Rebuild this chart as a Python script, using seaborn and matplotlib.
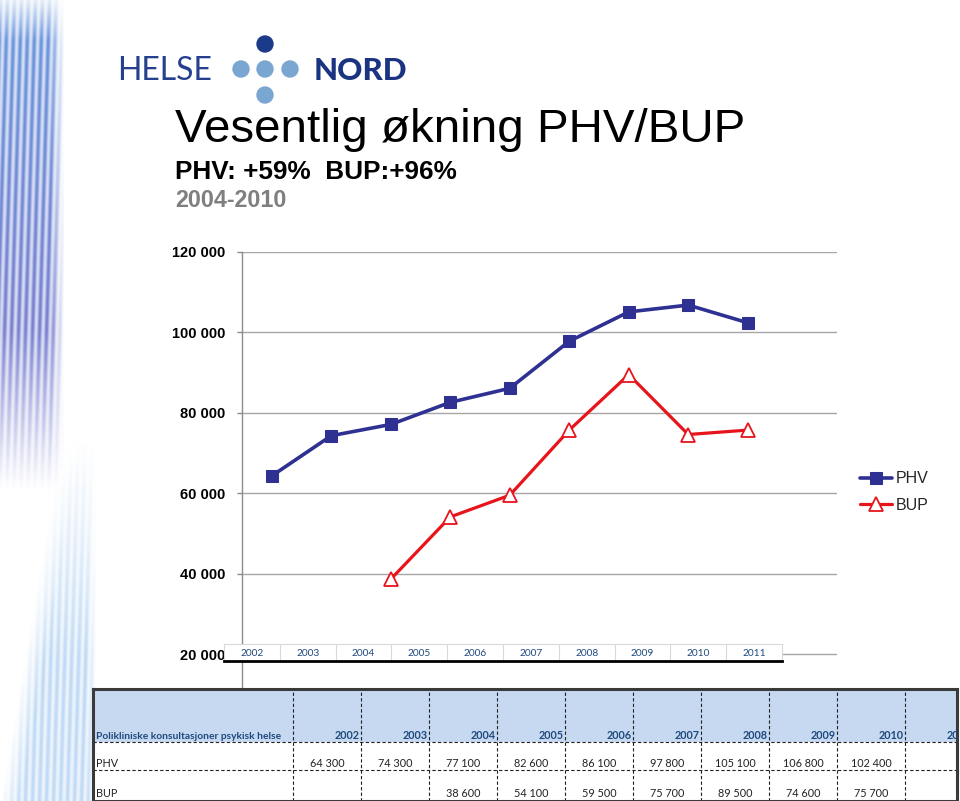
import matplotlib
matplotlib.use("Agg")
import matplotlib.pyplot as plt
from matplotlib.patches import Circle
import numpy as np
import pandas as pd
import seaborn as sns

years = [2002, 2003, 2004, 2005, 2006, 2007, 2008, 2009, 2010, 2011]
phv = [64300, 74300, 77100, 82600, 86100, 97800, 105100, 106800, 102400, None]
bup = [None, None, 38600, 54100, 59500, 75700, 89500, 74600, 75700, None]
y_ticks = [20000, 40000, 60000, 80000, 100000, 120000]

title = "Vesentlig økning PHV/BUP"
subtitle = "PHV: +59%  BUP:+96%"
period = "2004-2010"
table_label = "Polikliniske konsultasjoner psykisk helse"

PHV_COLOR = "#2e3192"
BUP_COLOR = "#e8141c"
NAVY = "#1f497d"

W, H = 960, 801


def fx(px):
    return px / W


def fy(py):
    return 1 - py / H


def thousands(v):
    return f"{int(v):,}".replace(",", " ")


sns.set_theme(style="white")
plt.rcParams["font.family"] = ["Liberation Sans", "DejaVu Sans"]

df = pd.DataFrame({"year": years, "PHV": phv, "BUP": bup})

fig = plt.figure(figsize=(W / 100, H / 100), dpi=100)
fig.patch.set_facecolor("white")

# streaky blue band on the left edge of the slide
xs = np.arange(100)[None, :].astype(float)
ys = np.arange(H)[:, None].astype(float)
stripe = 0.5 + 0.5 * np.cos(2 * np.pi * (xs + ys * 0.03) / 7.0)
stripe = 0.3 + 0.7 * stripe
env_up = (np.clip((64 - xs) / 14, 0, 1)
          * np.clip((490 - ys) / 160, 0, 1)
          * np.clip((ys + 10) / 50, 0, 1))
left_edge = np.clip(58 - (ys - 460) * 0.17, 0, 60)
env_low = (np.clip((xs - left_edge) / 20, 0, 1)
           * np.clip((96 - xs) / 10, 0, 1)
           * np.clip((ys - 440) / 220, 0, 1))
up = env_up * 0.92 * stripe
low = env_low * 0.55 * stripe
mix = np.clip(ys / 330, 0, 1)
img = np.ones((H, 100, 4))
img[..., 0] = np.where(up >= low, 0.36 + 0.07 * mix, 0.55)
img[..., 1] = np.where(up >= low, 0.56 - 0.10 * mix, 0.74)
img[..., 2] = np.where(up >= low, 0.86 - 0.06 * mix, 0.93)
img[..., 3] = np.maximum(up, low)
ax_bg = fig.add_axes([0, 0, fx(100), 1])
ax_bg.imshow(img, aspect="auto")
ax_bg.axis("off")

# overlay in pixel coordinates for logo and headings
ov = fig.add_axes([0, 0, 1, 1], facecolor="none")
ov.set_xlim(0, W)
ov.set_ylim(H, 0)
ov.axis("off")
ov.text(117, 80, "HELSE", fontsize=23, color="#24408e", family="Lato")
ov.text(314, 80, "NORD", fontsize=22.5, color="#1a3482", family="Lato", fontweight="black")
ov.add_patch(Circle((265, 44), 8, color="#1c3a8a"))
for cx, cy in [(241, 69), (265, 69), (290, 69), (265, 95)]:
    ov.add_patch(Circle((cx, cy), 8, color="#7aa6d2"))
ov.text(175, 142, title, fontsize=34.2, color="black")
ov.text(175, 179, subtitle, fontsize=18.8, fontweight="bold", color="black")
ov.text(175, 207, period, fontsize=16.8, fontweight="bold", color="#7f7f7f")

# main chart
ax = fig.add_axes([fx(242), fy(734.4), fx(837) - fx(242), (734.4 - 252) / H], facecolor="none")
sns.lineplot(data=df, x="year", y="PHV", ax=ax, color=PHV_COLOR, lw=2.6, marker="s",
             markersize=9, markeredgecolor=PHV_COLOR, label="PHV")
sns.lineplot(data=df, x="year", y="BUP", ax=ax, color=BUP_COLOR, lw=2.3, marker="^",
             markersize=10, markerfacecolor="white", markeredgecolor=BUP_COLOR,
             markeredgewidth=1.3, label="BUP")
ax.set_xlim(years[0] - 0.5, years[-1] + 0.5)
ax.set_ylim(0, 120000)
ax.set_yticks(y_ticks)
ax.set_yticklabels([thousands(v) for v in y_ticks], fontweight="bold", fontsize=10.5)
ax.set_xticks([])
ax.set_xlabel("")
ax.set_ylabel("")
ax.grid(axis="y", color="#a6a6a6", lw=1)
ax.set_axisbelow(True)
for side in ["top", "right", "bottom"]:
    ax.spines[side].set_visible(False)
ax.spines["left"].set_color("#8c8c8c")
ax.spines["left"].set_linewidth(1)
ax.tick_params(axis="y", left=True, length=3.6, width=1, pad=8.6, labelcolor="black",
               color="#8c8c8c")
ax.legend(loc="center left", bbox_to_anchor=(fx(854), fy(492)), bbox_transform=fig.transFigure,
          frameon=False, fontsize=11.5, handlelength=2.0, handletextpad=0.2, labelspacing=0.7,
          borderaxespad=0)

# pasted year strip across the 20 000 line
ax_s = fig.add_axes([fx(224), fy(661), fx(782) - fx(224), 17 / H], facecolor="white", zorder=5)
ax_s.set_xlim(-0.5, len(years) - 0.5)
ax_s.set_ylim(0, 1)
for i, yr in enumerate(years):
    ax_s.text(i, 0.45, str(yr), ha="center", va="center", fontsize=7.3, color=NAVY, family="Lato")
    if i < len(years) - 1:
        ax_s.axvline(i + 0.5, color="#d9d9d9", lw=0.8)
ax_s.set_xticks([])
ax_s.set_yticks([])
for side in ["top", "left", "right"]:
    ax_s.spines[side].set_color("#d9d9d9")
    ax_s.spines[side].set_linewidth(0.8)
ax_s.spines["bottom"].set_color("black")
ax_s.spines["bottom"].set_linewidth(2)

# data table at the bottom
ax_t = fig.add_axes([fx(93), 0, fx(957) - fx(93), (H - 689) / H], facecolor="white", zorder=6)
ax_t.set_xlim(93, 957)
ax_t.set_ylim(H, 689)
ax_t.axhspan(689, 742, color="#c6d9f1", lw=0)
col0, colw = 293, 68
for i in range(len(years)):
    ax_t.axvline(col0 + colw * i, color="#222222", lw=0.8, ls=(0, (3, 2)))
for yy in [742, 770]:
    ax_t.axhline(yy, color="#222222", lw=0.8, ls=(0, (3, 2)))
tfont = dict(family="Lato", fontsize=7.8, clip_on=True)
ax_t.text(96, 739, table_label, color=NAVY, fontweight="bold", family="Lato", fontsize=7.4,
          clip_on=True)
ax_t.text(96, 767, "PHV", color="#222222", **tfont)
ax_t.text(96, 797, "BUP", color="#222222", **tfont)
for i, yr in enumerate(years):
    right = col0 + colw * (i + 1)
    ax_t.text(right - 1, 739, str(yr), ha="right", color=NAVY, fontweight="bold", **tfont)
    center = col0 + colw * (i + 0.5)
    if phv[i] is not None:
        ax_t.text(center, 767, thousands(phv[i]), ha="center", color="#222222", **tfont)
    if bup[i] is not None:
        ax_t.text(center, 797, thousands(bup[i]), ha="center", color="#222222", **tfont)
ax_t.set_xticks([])
ax_t.set_yticks([])
for side in ax_t.spines:
    ax_t.spines[side].set_color("#3a3a3a")
    ax_t.spines[side].set_linewidth(2.2)

fig.savefig("out.png", dpi=100)
